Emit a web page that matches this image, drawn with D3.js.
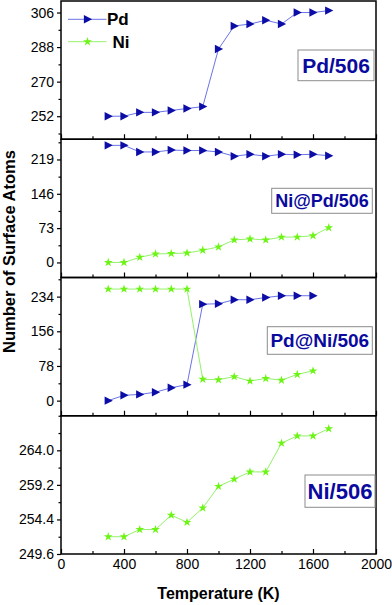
<!DOCTYPE html>
<html>
<head>
<meta charset="utf-8">
<script src="https://cdn.jsdelivr.net/npm/d3@7"></script>
<style>
  body { margin: 0; background: #fff; }
  svg { display: block; font-family: "Liberation Sans", Arial, sans-serif; }
</style>
</head>
<body>
<svg id="chart" width="392" height="605"></svg>
<script>
// Surface atom counts vs temperature, four stacked panels

const temps = [300, 400, 500, 600, 700, 800, 900, 1000, 1100, 1200, 1300, 1400, 1500, 1600, 1700];
const temps3 = temps.slice(0, 14);

const pd506Pd  = [252, 252, 254, 254, 255, 256, 257, 287, 299, 300, 302, 300, 306, 306, 307];
const niPdPd   = [249, 249, 235, 235, 239, 238, 238, 235, 226, 230, 226, 230, 229, 230, 227];
const niPdNi   = [0, 0, 11, 18, 19, 20, 26, 33, 48, 50, 48, 54, 54, 57, 74];
const pdNiPd   = [0, 12, 14, 19, 29, 36, 217, 218, 227, 227, 232, 236, 236, 236];
const pdNiNi   = [251, 251, 251, 251, 251, 251, 48, 47, 54, 44, 50, 46, 59, 67];
const ni506Ni  = [252, 252, 253, 253, 255, 254, 256, 259, 260, 261, 261, 265, 266, 266, 267];

const xTicks = [0, 400, 800, 1200, 1600, 2000];
const yTicks1 = [252, 270, 288, 306];
const yTicks2 = [0, 73, 146, 219];
const yTicks3 = [0, 78, 156, 234];
const yTicks4 = [249.6, 254.4, 259.2, 264.0];

const panelNames = ["Pd/506", "Ni@Pd/506", "Pd@Ni/506", "Ni/506"];

const PD = { marker: "#0c0ca6", line: "#6a74e6" };
const NI = { marker: "#6cf514", line: "#94f26a" };

const svg = d3.select("#chart");
const plotL = 61, plotR = 376, plotT = 1, plotB = 554;
const ph = (plotB - plotT) / 4;

const x = d3.scaleLinear().domain([0, 2000]).range([plotL, plotR]);

const panels = [
  { domain: [240, 312], ticks: yTicks1, minor: 9, fmt: d3.format("d"),
    series: [{ xs: temps, ys: pd506Pd, kind: "pd" }],
    box: { x0: 298, x1: 374, y0: 50, y1: 80.7, base: 72.7, size: 21 } },
  { domain: [-32, 262], ticks: yTicks2, minor: 36.5, fmt: d3.format("d"),
    series: [{ xs: temps, ys: niPdPd, kind: "pd" }, { xs: temps, ys: niPdNi, kind: "ni" }],
    box: { x0: 271.7, x1: 372.3, y0: 188.3, y1: 213.3, base: 206.8, size: 18 } },
  { domain: [-34, 277], ticks: yTicks3, minor: 39, fmt: d3.format("d"),
    series: [{ xs: temps3, ys: pdNiPd, kind: "pd" }, { xs: temps3, ys: pdNiNi, kind: "ni" }],
    box: { x0: 267.3, x1: 372.3, y0: 326.7, y1: 354.3, base: 346.8, size: 19 } },
  { domain: [249.6, 268.8], ticks: yTicks4, minor: 2.4, fmt: d3.format(".1f"),
    series: [{ xs: temps, ys: ni506Ni, kind: "ni" }],
    box: { x0: 305, x1: 375, y0: 475, y1: 507.3, base: 499.3, size: 22 } }
];

const triPath = "M-3.6,-4.2L4.6,0L-3.6,4.2Z";
const starPath = d3.symbol().type(d3.symbolStar).size(24)();

function minorTicks(domain, step, major) {
  const out = [];
  const start = Math.ceil((domain[0] - 1e-9) / step);
  for (let k = start; k * step <= domain[1] + 1e-9; k++) {
    const v = +(k * step).toFixed(4);
    if (!major.some(m => Math.abs(m - v) < 1e-6)) out.push(v);
  }
  return out;
}

function drawMarker(g, kind, cx, cy) {
  g.append("path")
    .attr("d", kind === "pd" ? triPath : starPath)
    .attr("transform", `translate(${cx},${cy})`)
    .attr("fill", kind === "pd" ? PD.marker : NI.marker);
}

panels.forEach((p, i) => {
  const y0 = plotT + i * ph, y1 = plotT + (i + 1) * ph;
  const y = d3.scaleLinear().domain(p.domain).range([y1, y0]);
  const g = svg.append("g");

  // x ticks pointing inward on each panel's bottom edge
  const xMinor = [200, 600, 1000, 1400, 1800];
  const xa = g.append("g").attr("transform", `translate(0,${y1})`)
    .call(d3.axisBottom(x).tickValues(xTicks).tickSize(-5).tickPadding(5)
      .tickFormat(i === 3 ? d3.format("d") : () => ""));
  xa.select(".domain").remove();
  xa.selectAll("text").attr("font-size", 14).attr("fill", "#000");
  const xm = g.append("g").attr("transform", `translate(0,${y1})`)
    .call(d3.axisBottom(x).tickValues(xMinor).tickSize(-3).tickFormat(() => ""));
  xm.select(".domain").remove();

  // y ticks pointing outward
  const ya = g.append("g").attr("transform", `translate(${plotL},0)`)
    .call(d3.axisLeft(y).tickValues(p.ticks).tickSize(4).tickPadding(3).tickFormat(p.fmt));
  ya.select(".domain").remove();
  ya.selectAll("text").attr("font-size", 14).attr("fill", "#000");
  const ym = g.append("g").attr("transform", `translate(${plotL},0)`)
    .call(d3.axisLeft(y).tickValues(minorTicks(p.domain, p.minor, p.ticks)).tickSize(2.5).tickFormat(() => ""));
  ym.select(".domain").remove();
  g.selectAll(".tick line").attr("stroke", "#000").attr("stroke-width", 1.2);

  // series
  p.series.forEach(s => {
    const col = s.kind === "pd" ? PD : NI;
    const line = d3.line().x((d, j) => x(s.xs[j])).y(d => y(d));
    g.append("path").datum(s.ys)
      .attr("d", line).attr("fill", "none")
      .attr("stroke", col.line).attr("stroke-width", 1);
    s.ys.forEach((v, j) => drawMarker(g, s.kind, x(s.xs[j]), y(v)));
  });

  // frame
  g.append("rect")
    .attr("x", plotL).attr("y", y0).attr("width", plotR - plotL).attr("height", y1 - y0)
    .attr("fill", "none").attr("stroke", "#000").attr("stroke-width", 1.5);

  // label box
  const b = p.box;
  g.append("rect")
    .attr("x", b.x0).attr("y", b.y0).attr("width", b.x1 - b.x0).attr("height", b.y1 - b.y0)
    .attr("fill", "#fff").attr("stroke", "#8c8c8c").attr("stroke-width", 1);
  g.append("text")
    .attr("x", (b.x0 + b.x1) / 2).attr("y", b.base)
    .attr("text-anchor", "middle")
    .attr("font-size", b.size).attr("font-weight", "bold")
    .attr("fill", "#0a0a9e")
    .text(panelNames[i]);
});

// legend in first panel
const legend = [
  { name: "Pd", kind: "pd", y: 19.3, tx: 107 },
  { name: "Ni", kind: "ni", y: 41.7, tx: 112.5 }
];
legend.forEach(l => {
  const col = l.kind === "pd" ? PD : NI;
  svg.append("line")
    .attr("x1", 68).attr("x2", 106.5).attr("y1", l.y).attr("y2", l.y)
    .attr("stroke", col.line).attr("stroke-width", 1);
  drawMarker(svg, l.kind, 87.5, l.y);
  svg.append("text")
    .attr("x", l.tx).attr("y", l.y + 6)
    .attr("font-size", 17).attr("font-weight", "bold").attr("fill", "#000")
    .text(l.name);
});

// axis titles
svg.append("text")
  .attr("transform", "translate(15,251.5) rotate(-90)")
  .attr("text-anchor", "middle")
  .attr("font-size", 16.5).attr("font-weight", "bold")
  .text("Number of Surface Atoms");

svg.append("text")
  .attr("x", (plotL + plotR) / 2).attr("y", 598.5)
  .attr("text-anchor", "middle")
  .attr("font-size", 16).attr("font-weight", "bold")
  .text("Temperature (K)");
</script>
</body>
</html>
